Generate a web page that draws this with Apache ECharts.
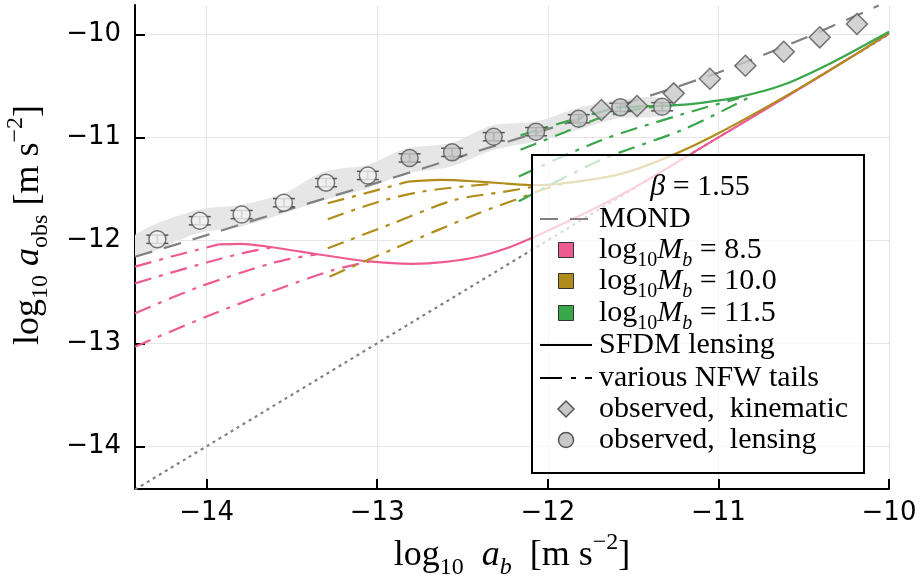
<!DOCTYPE html>
<html><head><meta charset="utf-8">
<script src="https://cdn.jsdelivr.net/npm/echarts@6/dist/echarts.min.js"></script>
<style>html,body{margin:0;padding:0;background:#fff}#c{width:924px;height:579px}</style>
</head><body><div id="c"></div>
<script>
// ---------- data ----------
const xTicks = [-14, -13, -12, -11, -10];
const yTicks = [-14, -13, -12, -11, -10];
const identityLine = [[-14.42, -14.42], [-10, -10]];
const mondLine = [[-14.42,-12.16],[-14.0,-11.95],[-13.5,-11.69],[-13.0,-11.44],[-12.5,-11.18],[-12.0,-10.92],[-11.5,-10.65],[-11.0,-10.37],[-10.5,-10.04],[-10.06,-9.72]];

const pinkSolid = [[-13.93,-12.04],[-13.8,-12.035],[-13.65,-12.06],[-13.45,-12.11],[-13.25,-12.16],[-13.05,-12.205],[-12.8,-12.228],[-12.6,-12.21],[-12.41,-12.16],[-12.22,-12.065],[-12.09,-11.975],[-11.9,-11.83],[-11.7,-11.67],[-11.5,-11.495],[-11.2,-11.2],[-11.0,-11.0],[-10.6,-10.605],[-10.3,-10.3],[-10.0,-9.995]];
const pinkTail1 = [[-14.42,-12.256],[-14.2,-12.155],[-13.93,-12.04]];
const pinkTail2 = [[-14.42,-12.418],[-14.0,-12.215],[-13.75,-12.11],[-13.62,-12.07]];
const pinkTail3 = [[-14.42,-12.709],[-14.04,-12.45],[-13.59,-12.21],[-13.35,-12.135]];
const pinkTail4 = [[-14.42,-13.033],[-14.0,-12.74],[-13.59,-12.48],[-13.26,-12.29],[-13.05,-12.21]];

const goldSolid = [[-12.82,-11.43],[-12.63,-11.413],[-12.4,-11.43],[-12.24,-11.45],[-12.08,-11.465],[-11.85,-11.435],[-11.56,-11.35],[-11.28,-11.18],[-11.0,-10.96],[-10.6,-10.595],[-10.24,-10.24],[-10.0,-9.985]];
const goldTail1 = [[-13.29,-11.64],[-13.05,-11.535],[-12.82,-11.43]];
const goldTail2 = [[-13.29,-11.796],[-13.0,-11.63],[-12.75,-11.53],[-12.45,-11.47],[-12.3,-11.45]];
const goldTail3 = [[-13.29,-12.078],[-12.9,-11.83],[-12.55,-11.61],[-12.26,-11.53],[-12.05,-11.47]];
const goldTail4 = [[-13.28,-12.353],[-12.9,-12.08],[-12.41,-11.74],[-12.18,-11.6],[-11.98,-11.48],[-11.85,-11.435]];

const greenSolid = [[-11.6,-10.71],[-11.45,-10.70],[-11.27,-10.69],[-11.1,-10.665],[-10.87,-10.605],[-10.62,-10.49],[-10.33,-10.27],[-10.0,-9.975]];
const greenTail1 = [[-12.16,-10.98],[-11.9,-10.85],[-11.6,-10.71]];
const greenTail2 = [[-12.16,-11.12],[-11.9,-10.95],[-11.69,-10.81],[-11.45,-10.72],[-11.27,-10.69]];
const greenTail3 = [[-12.17,-11.38],[-11.69,-11.03],[-11.2,-10.77],[-10.88,-10.62]];
const greenTail4 = [[-12.17,-11.62],[-11.69,-11.22],[-11.2,-10.92],[-10.8,-10.595]];

const lensingOpen = [[-14.289,-11.99],[-14.04,-11.81],[-13.795,-11.75],[-13.547,-11.635],[-13.30,-11.44],[-13.055,-11.37]];
const lensingFilled = [[-12.81,-11.20],[-12.561,-11.146],[-12.317,-10.994],[-12.069,-10.945],[-11.819,-10.82],[-11.575,-10.709],[-11.33,-10.703]];
const lensingErr = [0.04,0.04,0.04,0.04,0.04,0.04,0.04,0.04,0.04,0.04,0.04,0.04,0.04];
const kinematic = [[-11.686,-10.735],[-11.477,-10.696],[-11.262,-10.573],[-11.05,-10.431],[-10.842,-10.305],[-10.617,-10.169],[-10.406,-10.029],[-10.188,-9.90]];

const bandX = [-14.42,-14.054,-13.80,-13.547,-13.313,-13.059,-12.825,-12.571,-12.318,-12.073,-11.827,-11.592,-11.33];
const bandUpper = [-11.949,-11.706,-11.657,-11.544,-11.334,-11.269,-11.107,-11.058,-10.881,-10.848,-10.718,-10.638,-10.621];
const bandLower = [-12.159,-11.932,-11.868,-11.738,-11.609,-11.496,-11.350,-11.286,-11.123,-11.04,-10.929,-10.816,-10.784];

// ---------- styles ----------
const PINK = '#ee5b91', GOLD = '#b08d1a', GREEN = '#3aa64c', GRAY = '#808080';
const SERIF = "'Liberation Serif','DejaVu Serif',serif";
const SANS = "'DejaVu Sans',sans-serif";
const DASHDOT = [17, 8, 4, 8];
function richMath(size) {
  const s = Math.round(size * 0.68);
  return {
    r: {fontFamily: SERIF, fontSize: size, lineHeight: Math.round(size * 1.35), color: '#000'},
    i: {fontFamily: SERIF, fontSize: size, fontStyle: 'italic', lineHeight: Math.round(size * 1.35), color: '#000'},
    sub: {fontFamily: SERIF, fontSize: s, lineHeight: s, verticalAlign: 'bottom', color: '#000'},
    subi: {fontFamily: SERIF, fontSize: s, fontStyle: 'italic', lineHeight: s, verticalAlign: 'bottom', color: '#000'},
    sup: {fontFamily: SERIF, fontSize: s, lineHeight: s, verticalAlign: 'top', color: '#000'}
  };
}
const fmt = v => (v < 0 ? '\u2212' : '') + Math.abs(v);

function lineS(data, color, type, z) {
  return {type: 'line', data, showSymbol: false, symbol: 'none', smooth: 0.3, silent: true,
    lineStyle: {color, width: 2.2, type}, z, animation: false};
}

const bandSeries = {
  type: 'custom', z: 1, silent: true, clip: true, animation: false,
  data: bandX.map((x, i) => [x, bandUpper[i], bandLower[i]]),
  renderItem(params, api) {
    if (params.dataIndex !== 0) return null;
    const pts = [];
    for (let i = 0; i < bandX.length; i++) pts.push(api.coord([bandX[i], bandUpper[i]]));
    for (let i = bandX.length - 1; i >= 0; i--) pts.push(api.coord([bandX[i], bandLower[i]]));
    return {type: 'polygon', shape: {points: pts, smooth: 0.3}, style: {fill: '#e6e6e6'}};
  }
};

const allLensing = lensingOpen.concat(lensingFilled);
const errSeries = {
  type: 'custom', z: 5, silent: true, animation: false,
  data: allLensing.map((p, i) => [p[0], p[1], lensingErr[i]]),
  renderItem(params, api) {
    const x = api.value(0), y = api.value(1), e = api.value(2);
    const t = api.coord([x, y + e]), b = api.coord([x, y - e]);
    const hw = 11, st = {stroke: '#555', lineWidth: 1.5};
    return {type: 'group', children: [
      {type: 'line', shape: {x1: t[0], y1: t[1], x2: b[0], y2: b[1]}, style: st},
      {type: 'line', shape: {x1: t[0] - hw, y1: t[1], x2: t[0] + hw, y2: t[1]}, style: st},
      {type: 'line', shape: {x1: b[0] - hw, y1: b[1], x2: b[0] + hw, y2: b[1]}, style: st}
    ]};
  }
};

// ---------- legend (drawn as graphic) ----------
const LR = richMath(30);
const LX0 = 540, LX1 = 592, LSX = 566, LTX = 599;
const rowY = {title: 187, mond: 219, m85: 250, m100: 281, m115: 313, sfdm: 345, nfw: 378, kin: 409, len: 440};
function ltext(y, text, align, x) {
  return {type: 'text', x: x || LTX, y, z: 102, style: {text, rich: LR, align: align || 'left', verticalAlign: 'middle'}};
}
function lsq(y, color) {
  return {type: 'rect', z: 102, shape: {x: LSX - 7.5, y: y - 7.5, width: 15, height: 15}, style: {fill: color, stroke: '#333', lineWidth: 1}};
}
const graphic = [
  {type: 'rect', z: 100, shape: {x: 532, y: 155, width: 332, height: 318}, style: {fill: 'rgba(255,255,255,0.72)', stroke: '#000', lineWidth: 2}},
  ltext(rowY.title, '{i|β}{r| = 1.55}', 'center', 700),
  {type: 'line', z: 102, shape: {x1: LX0, y1: rowY.mond, x2: LX1, y2: rowY.mond}, style: {stroke: GRAY, lineWidth: 2, lineDash: [18, 12]}},
  ltext(rowY.mond, '{r|MOND}'),
  lsq(rowY.m85, PINK), ltext(rowY.m85, '{r|log}{sub|10}{i|M}{subi|b}{r| = 8.5}'),
  lsq(rowY.m100, GOLD), ltext(rowY.m100, '{r|log}{sub|10}{i|M}{subi|b}{r| = 10.0}'),
  lsq(rowY.m115, GREEN), ltext(rowY.m115, '{r|log}{sub|10}{i|M}{subi|b}{r| = 11.5}'),
  {type: 'line', z: 102, shape: {x1: LX0, y1: rowY.sfdm, x2: LX1, y2: rowY.sfdm}, style: {stroke: '#000', lineWidth: 2}},
  ltext(rowY.sfdm, '{r|SFDM lensing}'),
  {type: 'line', z: 102, shape: {x1: LX0, y1: rowY.nfw, x2: LX1, y2: rowY.nfw}, style: {stroke: '#000', lineWidth: 2, lineDash: [22, 9, 5, 9]}},
  ltext(rowY.nfw, '{r|various NFW tails}'),
  {type: 'polygon', z: 102, shape: {points: [[LSX, rowY.kin - 8], [LSX + 8, rowY.kin], [LSX, rowY.kin + 8], [LSX - 8, rowY.kin]]}, style: {fill: '#c8c8c8', stroke: '#555', lineWidth: 1.5}},
  ltext(rowY.kin, '{r|observed,  kinematic}'),
  {type: 'circle', z: 102, shape: {cx: LSX, cy: rowY.len, r: 7.5}, style: {fill: '#c8c8c8', stroke: '#555', lineWidth: 1.5}},
  ltext(rowY.len, '{r|observed,  lensing}')
];

const AR = richMath(36);
const option = {
  animation: false,
  backgroundColor: '#fff',
  grid: {left: 135, right: 35, top: 5, bottom: 90, containLabel: false, outerBoundsMode: 'none'},
  xAxis: {
    type: 'value', min: -14.42, max: -10,
    axisLine: {show: true, onZero: false, lineStyle: {color: '#000', width: 2}},
    axisTick: {show: true, inside: true, length: 10, customValues: xTicks, lineStyle: {color: '#000', width: 2}},
    axisLabel: {customValues: xTicks, formatter: fmt, fontFamily: SANS, fontSize: 26, color: '#000', margin: 11},
    splitLine: {show: true, lineStyle: {color: '#e6e6e6', width: 1}},
    name: '{r|log}{sub|10}{i|  a}{subi|b}{r|  [m s}{sup|\u22122}{r|]}',
    nameLocation: 'middle', nameGap: 34,
    nameTextStyle: {rich: AR}
  },
  yAxis: {
    type: 'value', min: -14.415, max: -9.715,
    axisLine: {show: true, onZero: false, lineStyle: {color: '#000', width: 2}},
    axisTick: {show: true, inside: true, length: 10, customValues: yTicks, lineStyle: {color: '#000', width: 2}},
    axisLabel: {customValues: yTicks, formatter: fmt, fontFamily: SANS, fontSize: 26, color: '#000', margin: 14},
    splitLine: {show: true, lineStyle: {color: '#e6e6e6', width: 1}},
    name: '{r|log}{sub|10}{i| a}{sub|obs}{r| [m s}{sup|\u22122}{r|]}',
    nameLocation: 'middle', nameGap: 82,
    nameTextStyle: {rich: AR, padding: [0, 0, 0, 44]}
  },
  graphic,
  series: [
    bandSeries,
    lineS(identityLine, GRAY, [3, 4], 2),
    lineS(mondLine, GRAY, [18, 12], 3),
    lineS(pinkTail1, PINK, DASHDOT, 4), lineS(pinkTail2, PINK, DASHDOT, 4),
    lineS(pinkTail3, PINK, DASHDOT, 4), lineS(pinkTail4, PINK, DASHDOT, 4),
    lineS(pinkSolid, PINK, 'solid', 4),
    lineS(goldTail1, GOLD, DASHDOT, 4), lineS(goldTail2, GOLD, DASHDOT, 4),
    lineS(goldTail3, GOLD, DASHDOT, 4), lineS(goldTail4, GOLD, DASHDOT, 4),
    lineS(goldSolid, GOLD, 'solid', 4),
    lineS(greenTail1, GREEN, DASHDOT, 4), lineS(greenTail2, GREEN, DASHDOT, 4),
    lineS(greenTail3, GREEN, DASHDOT, 4), lineS(greenTail4, GREEN, DASHDOT, 4),
    lineS(greenSolid, GREEN, 'solid', 4),
    errSeries,
    {type: 'scatter', data: lensingOpen, symbol: 'circle', symbolSize: 17, z: 6, silent: true,
      itemStyle: {color: '#f2f2f2', borderColor: '#555', borderWidth: 1.5}},
    {type: 'scatter', data: lensingFilled, symbol: 'circle', symbolSize: 17, z: 6, silent: true,
      itemStyle: {color: '#c8c8c8', borderColor: '#555', borderWidth: 1.5}},
    {type: 'scatter', data: kinematic, symbol: 'diamond', symbolSize: 21, z: 6, silent: true,
      itemStyle: {color: '#c8c8c8', borderColor: '#555', borderWidth: 1.5}}
  ]
};
const chart = echarts.init(document.getElementById('c'));
chart.setOption(option);
</script>
</body></html>
